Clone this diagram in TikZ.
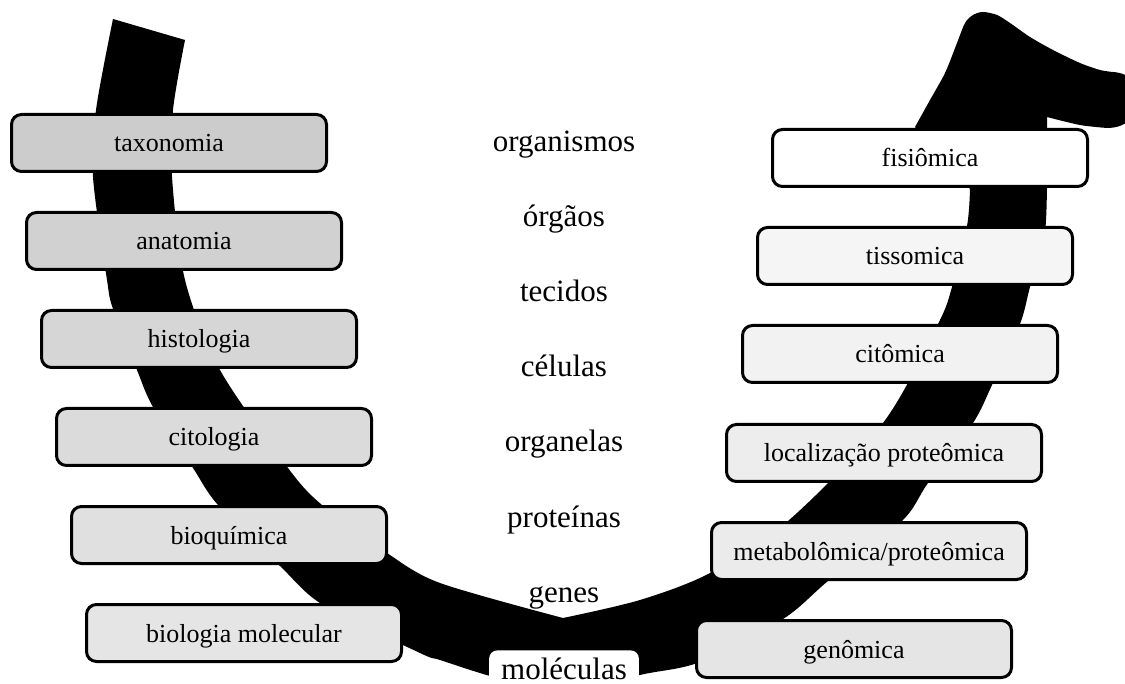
\documentclass[tikz,border=0pt]{standalone}
\usepackage{fontspec}
\setmainfont{Liberation Serif}
\begin{document}
\begin{tikzpicture}[x=1pt,y=-1pt,
  field/.style={draw=black, line width=3pt, rounded corners=10pt,
    minimum width=315pt, minimum height=57pt, inner sep=0pt,
    font=\fontsize{26}{30}\selectfont, text height=22pt, text depth=4pt},
  level/.style={anchor=base, inner sep=0pt, font=\fontsize{31}{36}\selectfont}]
\useasboundingbox (0,0) rectangle (1125,684);
\clip (0,0) rectangle (1125,684);

% the thick black U-shaped band
\fill[black] (113,19) -- (185,40)
  -- plot[smooth] coordinates {(185,40) (173,110) (172,177) (185,280) (220,370) (288,468) (322,505) (387,553) (440,583) (563,618)}
  -- plot[smooth] coordinates {(563,618) (640,600) (710,573) (788,521) (883,423) (938,324) (952,287) (967,226) (970,189)}
  -- (915,127)
  -- plot[smooth] coordinates {(915,127) (930,100) (945,73) (957,43) (965,23) (973,15) (983,12) (997,15) (1010,23) (1030,37) (1053,50) (1080,63) (1100,70) (1113,72)}
  .. controls (1150,74) and (1148,128) .. (1107,128)
  -- plot[smooth] coordinates {(1107,128) (1080,125) (1047,117)}
  -- plot[smooth] coordinates {(1047,117) (1047,189) (1044,240) (1030,287) (1020,324) (992,385) (973,423) (928,483) (902,521) (828,581) (783,619) (700,662) (640,675) (563,695)}
  -- plot[smooth] coordinates {(563,695) (490,676) (440,660) (420,653) (323,605) (280,566) (218,505) (193,468) (153,407) (137,370) (113,309) (107,280) (93,177) (96,110) (113,19)}
  -- cycle;

% disciplines
\node[field, fill=black!20] (taxonomia) at (169,143) {taxonomia};
\node[field, fill=black!18] (anatomia) at (184,241) {anatomia};
\node[field, fill=black!16] (histologia) at (199,339) {histologia};
\node[field, fill=black!14] (citologia) at (214,437) {citologia};
\node[field, fill=black!12] (bioquimica) at (229,535) {bioquímica};
\node[field, fill=black!10] (biomol) at (244,633) {biologia molecular};

% omics
\node[field, fill=white] (fisiomica) at (930,158) {fisiômica};
\node[field, fill=black!4] (tissomica) at (915,256) {tissomica};
\node[field, fill=black!5] (citomica) at (900,354) {citômica};
\node[field, fill=black!7] (localizacao) at (884,453) {localização proteômica};
\node[field, fill=black!8] (metabolomica) at (869,551) {metabolômica/proteômica};
\node[field, fill=black!10] (genomica) at (854,649) {genômica};

% levels of organisation
\node[level] (organismos) at (564,152) {organismos};
\node[level] (orgaos) at (564,227) {órgãos};
\node[level] (tecidos) at (564,302) {tecidos};
\node[level] (celulas) at (564,377) {células};
\node[level] (organelas) at (564,452) {organelas};
\node[level] (proteinas) at (564,527) {proteínas};
\node[level] (genes) at (564,602) {genes};
\node[level, fill=white, rounded corners=8pt, inner xsep=12pt, inner ysep=7pt] (moleculas) at (564,679) {moléculas};
\end{tikzpicture}
\end{document}
